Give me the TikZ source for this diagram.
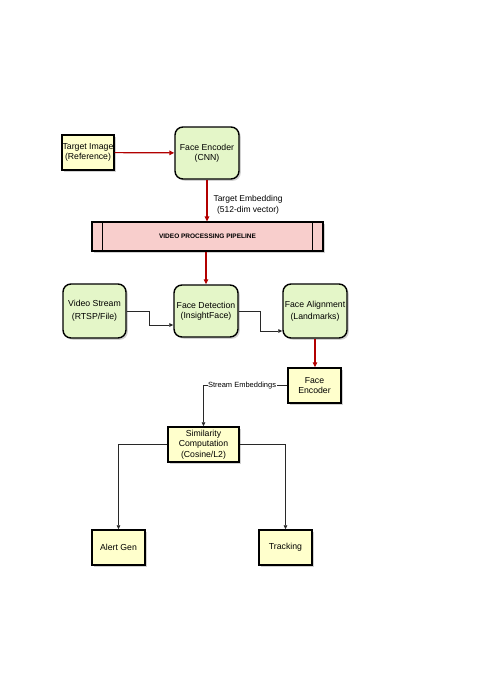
\documentclass[tikz,border=0pt]{standalone}
\usepackage{fontspec}
\setmainfont{Liberation Sans}
\usetikzlibrary{arrows.meta,shadows,calc}
\definecolor{boxyellow}{RGB}{255,255,204}
\definecolor{boxgreen}{RGB}{228,246,200}
\definecolor{boxpink}{RGB}{248,206,204}
\definecolor{arrred}{RGB}{178,0,0}
\definecolor{conngray}{RGB}{40,40,40}
\begin{document}
\begin{tikzpicture}[x=1pt,y=-1pt,
  shadowed/.style={drop shadow={opacity=0.35,shadow xshift=1.8pt,shadow yshift=-1.8pt}},
  ybox/.style={draw=black,line width=1.4pt,fill=boxyellow,shadowed,inner sep=0pt,align=center,font=\fontsize{8.7}{10.5}\selectfont},
  gbox/.style={draw=black,line width=1.4pt,fill=boxgreen,rounded corners=8pt,shadowed,inner sep=0pt,align=center,font=\fontsize{8.7}{10.5}\selectfont},
  pbox/.style={draw=black,line width=1.2pt,fill=boxpink,shadowed,inner sep=0pt,align=center,font=\fontsize{6.5}{7.5}\selectfont\bfseries},
  redarr/.style={draw=arrred,line width=1.2pt,-{Triangle[length=5pt,width=4.5pt]}},
  conn/.style={draw=conngray,line width=0.7pt,-{Triangle[length=4pt,width=3.5pt]}},
  lbl/.style={font=\fontsize{8.5}{10.5}\selectfont,align=center},
  slbl/.style={font=\fontsize{7.5}{9}\selectfont,fill=white,inner sep=0.5pt}
]
\useasboundingbox[fill=white] (0,0) rectangle (482,680);

\node[ybox,minimum width=52,minimum height=35] (ti) at (88,152.5) {Target Image\\(Reference)};
\node[gbox,minimum width=64,minimum height=52] (fe1) at (207,153) {Face Encoder\\(CNN)};
\node[pbox,minimum width=231,minimum height=29] (pp) at (207.5,236.5) {VIDEO PROCESSING PIPELINE};
\draw[line width=1.2pt] ([xshift=11pt]pp.north west) -- ([xshift=11pt]pp.south west);
\draw[line width=1.2pt] ([xshift=-11pt]pp.north east) -- ([xshift=-11pt]pp.south east);
\node[gbox,minimum width=63,minimum height=54] (vs) at (94.5,311) {Video Stream\\[2.5pt](RTSP/File)};
\node[gbox,minimum width=64,minimum height=52] (fd) at (206,311) {Face Detection\\(InsightFace)};
\node[gbox,minimum width=64,minimum height=54] (fa) at (315,311) {Face Alignment\\[2pt](Landmarks)};
\node[ybox,minimum width=53,minimum height=35] (fe2) at (314.5,385.5) {Face\\Encoder};
\node[ybox,minimum width=71,minimum height=35] (sim) at (203.5,444.5) {Similarity\\Computation\\(Cosine/L2)};
\node[ybox,minimum width=53,minimum height=35] (alert) at (118.5,547.5) {Alert Gen};
\node[ybox,minimum width=53,minimum height=35] (track) at (285.5,547.5) {Tracking};

\node[lbl] (emb) at (248,205) {Target Embedding\\(512-dim vector)};

\draw[redarr] (ti) -- (fe1);
\draw[redarr] (fe1.south) -- (fe1.south |- pp.north);
\draw[redarr] (pp.south -| fd.north) -- (fd.north);
\draw[conn] (vs.east) -- ++(23,0) |- ($(fd.west)+(0,14)$);
\draw[conn] (fd.east) -- ++(22,0) |- ($(fa.west)+(0,20)$);
\draw[redarr] (fa.south) -- (fa.south |- fe2.north);
\draw[conn] (fe2.west) -| node[slbl,pos=0.27] (se) {Stream Embeddings} (sim.north);
\draw[conn] (sim.west) -| (alert.north);
\draw[conn] (sim.east) -| (track.north);
\end{tikzpicture}
\end{document}
